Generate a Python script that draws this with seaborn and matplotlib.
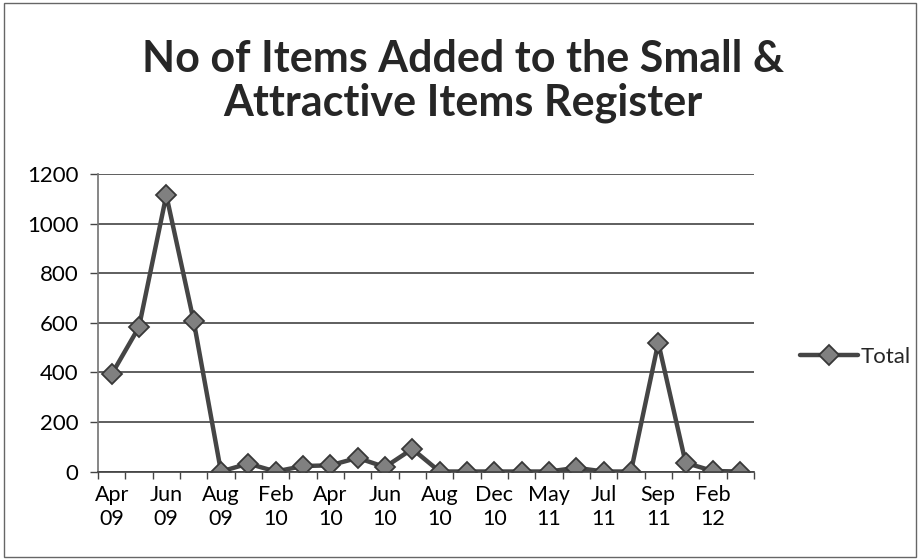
import numpy as np
import pandas as pd
import seaborn as sns
import matplotlib.pyplot as plt
from matplotlib.patches import Rectangle

# values (24 periods, only every other label shown)
tick_labels = ["Apr\n09", "Jun\n09", "Aug\n09", "Feb\n10", "Apr\n10", "Jun\n10",
               "Aug\n10", "Dec\n10", "May\n11", "Jul\n11", "Sep\n11", "Feb\n12"]
period = list(range(24))
totals = [392, 583, 1115, 608, 0, 32, 0, 22, 25, 55, 18, 91,
          0, 0, 0, 0, 0, 15, 0, 0, 520, 35, 2, 0]
yticks = [0, 200, 400, 600, 800, 1000, 1200]

sns.set_theme(style="white")
plt.rcParams["font.family"] = ["Lato", "DejaVu Sans"]

df = pd.DataFrame({"period": period, "Total": totals})

fig = plt.figure(figsize=(9.2, 5.59), dpi=100)
ax = fig.add_axes([0.1065, 0.1565, 0.713, 0.532])

sns.lineplot(
    data=df, x="period", y="Total", ax=ax, label="Total",
    color="#454545", linewidth=3.2, marker="D", markersize=10.5,
    markerfacecolor="#808080", markeredgecolor="#383838", markeredgewidth=1.3,
)

ax.set_xlim(-0.5, 23.5)
ax.set_ylim(0, 1200)
ax.set_yticks(yticks)
ax.set_yticklabels([str(v) for v in yticks], fontsize=16, color="black")
ax.yaxis.grid(True, color="#333333", linewidth=1.1)
ax.set_axisbelow(True)

# category boundary ticks on x, labels on every other category
ax.set_xticks(np.arange(-0.5, 24, 1.0))
ax.set_xticklabels([])
ax.set_xticks(period[::2], labels=tick_labels, minor=True)
ax.tick_params(axis="x", which="major", direction="out", length=5, width=1,
               color="#444444", bottom=True)
ax.tick_params(axis="x", which="minor", length=0, labelsize=15.5, pad=10,
               labelcolor="black")
ax.tick_params(axis="y", direction="out", length=6, width=1, color="#444444",
               left=True, pad=8)
ax.set_xlabel("")
ax.set_ylabel("")

for side in ["top", "right"]:
    ax.spines[side].set_visible(False)
ax.spines["left"].set_color("#777777")
ax.spines["bottom"].set_color("#444444")

ax.legend(loc="center left", bbox_to_anchor=(0.848, 0.361),
          bbox_transform=fig.transFigure, frameon=False, fontsize=16,
          handlelength=2.6, handletextpad=0.1)

fig.text(0.503, 0.855, "No of Items Added to the Small &\nAttractive Items Register",
         ha="center", va="center", fontsize=31, fontweight="bold",
         linespacing=1.1)

# chart area border
fig.patches.append(Rectangle((0.004, 0.004), 0.992, 0.990, transform=fig.transFigure,
                             fill=False, edgecolor="#666666", linewidth=1.0))

fig.savefig("out.png", dpi=100)
